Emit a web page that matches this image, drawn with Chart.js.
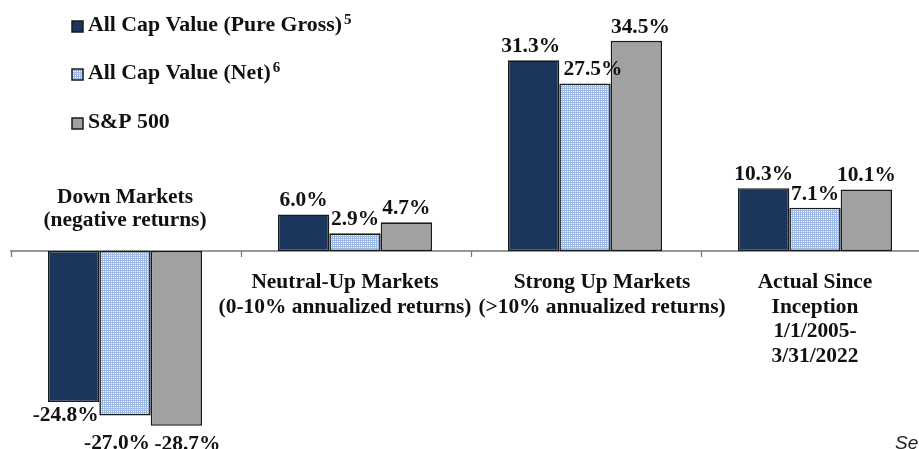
<!DOCTYPE html>
<html>
<head>
<meta charset="utf-8">
<style>
html, body { margin: 0; padding: 0; background: #fff; overflow: hidden; }
#wrap { position: relative; width: 930px; height: 449px; }
</style>
</head>
<body>
<div id="wrap"><canvas id="myChart" width="930" height="449"></canvas></div>

<script src="https://cdn.jsdelivr.net/npm/chart.js"></script>
<script>
// categories (one entry per line of the label)
var categories = [
	["Down Markets", "(negative returns)"],
	["Neutral-Up Markets", "(0-10% annualized returns)"],
	["Strong Up Markets", "(>10% annualized returns)"],
	["Actual Since", "Inception", "1/1/2005-", "3/31/2022"]
];
var pureGross = [-24.8, 6.0, 31.3, 10.3];
var netValues = [-27.0, 2.9, 27.5, 7.1];
var sp500 = [-28.7, 4.7, 34.5, 10.1];
var seriesNames = ["All Cap Value (Pure Gross)", "All Cap Value (Net)", "S&P 500"];
var seriesNotes = ["5", "6", ""];
var footText = "Se";
</script>

<script>
var navy = '#1b365d';
var grey = '#a1a1a1';
var edge = '#1a1a1a';
var font = '"Liberation Serif", "Times New Roman", serif';
var widen = 1.07; // the original face is a wide Garamond

// dotted light blue fill for the Net series
function makeDots(){
	var c = document.createElement('canvas');
	c.width = 2; c.height = 2;
	var g = c.getContext('2d');
	g.fillStyle = '#9cb9e5';
	g.fillRect(0, 0, 2, 2);
	g.fillStyle = '#f2f6fc';
	g.fillRect(1, 1, 1, 1);
	return g.createPattern(c, 'repeat');
}
var dots = makeDots();

var fills = [navy, dots, grey];

function wideText(ctx, txt, x, y, align, k){
	ctx.save();
	ctx.translate(x, y);
	ctx.scale(k, 1);
	ctx.textAlign = align;
	ctx.fillText(txt, 0, 0);
	ctx.restore();
}

var extras = {
	id: 'extras',
	beforeDatasetsDraw: function(chart){
		var ctx = chart.ctx;
		var xs = chart.scales.x, ys = chart.scales.y;
		var zero = ys.getPixelForValue(0);
		var step = xs.getPixelForValue(1) - xs.getPixelForValue(0);
		ctx.save();
		ctx.strokeStyle = '#333';
		ctx.lineWidth = 1.2;
		ctx.beginPath();
		ctx.moveTo(chart.chartArea.left, zero);
		ctx.lineTo(chart.chartArea.right, zero);
		ctx.stroke();
		ctx.strokeStyle = '#777';
		ctx.beginPath();
		for(var i = 0; i < categories.length; i++){
			var tx = Math.round(xs.getPixelForValue(i) - step/2) + 1.5;
			ctx.moveTo(tx, zero);
			ctx.lineTo(tx, zero + 6);
		}
		ctx.stroke();
		ctx.restore();
	},
	afterDatasetsDraw: function(chart){
		var ctx = chart.ctx;
		var xs = chart.scales.x, ys = chart.scales.y;
		var zero = ys.getPixelForValue(0);
		ctx.save();
		ctx.fillStyle = '#111';
		ctx.textBaseline = 'alphabetic';

		// value labels
		var posDx = [-3, 8, 4], negDx = [-8, -8, 11], negDy = [19, 34, 24];
		ctx.font = 'bold 20px ' + font;
		chart.data.datasets.forEach(function(ds, d){
			var meta = chart.getDatasetMeta(d);
			meta.data.forEach(function(bar, i){
				var v = ds.data[i];
				var txt = v.toFixed(1) + '%';
				if(v >= 0){
					wideText(ctx, txt, bar.x + (v > 20 ? posDx[d] : 0), bar.y - 8, 'center', widen);
				} else {
					wideText(ctx, txt, bar.x + negDx[d], bar.y + negDy[d], 'center', widen);
				}
			});
		});

		// category labels
		var shift = [0, -10, 17, 0];
		ctx.font = 'bold 20px ' + font;
		categories.forEach(function(lines, i){
			var cx = xs.getPixelForValue(i) + shift[i];
			var neg = pureGross[i] < 0;
			lines.forEach(function(line, k){
				var y = neg ? zero - 48 + k*23 : zero + 37 + k*24.6;
				wideText(ctx, line, cx, y, 'center', widen);
			});
		});

		// legend
		var rows = [31, 79, 128];
		seriesNames.forEach(function(name, i){
			var y = rows[i];
			ctx.fillStyle = fills[i];
			ctx.fillRect(72, y - 10, 11, 11);
			ctx.strokeStyle = edge;
			ctx.lineWidth = 1.5;
			ctx.strokeRect(72, y - 10, 11, 11);
			ctx.fillStyle = '#111';
			ctx.font = 'bold 20px ' + font;
			wideText(ctx, name, 88, y, 'left', 1.09);
			var w = ctx.measureText(name).width * 1.09;
			if(seriesNotes[i]){
				ctx.font = 'bold 15px ' + font;
				ctx.textAlign = 'left';
				ctx.fillText(seriesNotes[i], 88 + w + 2, y - 7);
			}
		});

		// cut-off footnote text at lower right
		ctx.font = 'italic 19px "Liberation Sans", Arial, sans-serif';
		ctx.fillStyle = '#222';
		ctx.textAlign = 'left';
		ctx.fillText(footText, 895, 449);
		ctx.restore();
	}
};

var ctx = document.getElementById('myChart').getContext('2d');
var myChart = new Chart(ctx, {
	type: 'bar',
	data: {
		labels: categories.map(function(c){ return c.join(' '); }),
		datasets: [
			{ label: seriesNames[0], data: pureGross, backgroundColor: navy },
			{ label: seriesNames[1], data: netValues, backgroundColor: dots },
			{ label: seriesNames[2], data: sp500, backgroundColor: grey }
		]
	},
	options: {
		animation: false,
		responsive: false,
		layout: { padding: { left: 10, right: 0, top: 0, bottom: 0 } },
		datasets: {
			bar: {
				categoryPercentage: 0.67,
				barPercentage: 1.0,
				borderColor: edge,
				borderWidth: 1.6,
				borderSkipped: false
			}
		},
		plugins: {
			legend: { display: false },
			tooltip: { enabled: false }
		},
		scales: {
			x: { display: false },
			y: { display: false, min: -32.5, max: 41.2 }
		}
	},
	plugins: [extras]
});
</script>
</body>
</html>
